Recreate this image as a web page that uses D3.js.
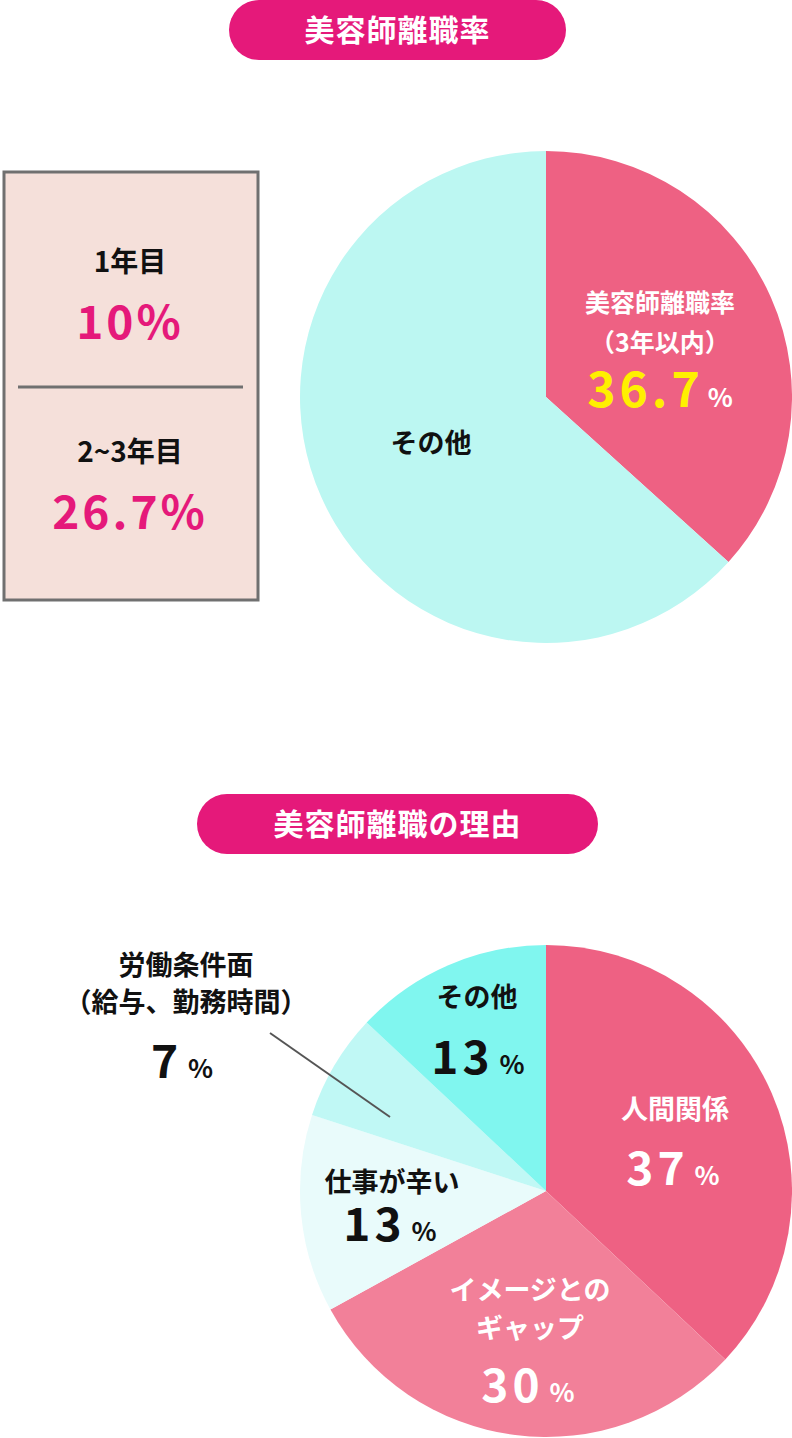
<!DOCTYPE html>
<html><head><meta charset="utf-8">
<script src="https://cdn.jsdelivr.net/npm/d3@7"></script>
<style>body{margin:0;background:#fff}text{font-family:"Noto Sans CJK JP","Noto Sans",sans-serif;font-weight:700}</style>
</head><body>
<svg id="c" width="792" height="1438"></svg>
<script>
var rateNames = ['美容師離職率', 'その他'],
	rateValues = [36.7, 63.3],
	rateColors = ['#ee6183', '#bcf7f2'],
	reasonNames = ['人間関係', 'イメージとのギャップ', '仕事が辛い', '労働条件面', 'その他'],
	reasonValues = [37, 30, 13, 7, 13],
	reasonColors = ['#ee6183', '#f28099', '#e9fbfb', '#c0f8f5', '#80f6ef'],
	boxLabels = ['1年目', '2~3年目'],
	boxValues = ['10%', '26.7%'];

var svg = d3.select('#c'),
	pink = '#e5197a';

function pill(x, y, w, h, label) {
	svg.append('rect').attr('x', x).attr('y', y).attr('width', w).attr('height', h)
		.attr('rx', h / 2).attr('fill', pink);
	svg.append('text').attr('x', x + w / 2).attr('y', y + h / 2 + 11).attr('text-anchor', 'middle')
		.attr('fill', '#fff').attr('font-size', 30).attr('letter-spacing', 1).text(label);
}

function txt(x, y, s, size, fill, ls) {
	return svg.append('text').attr('x', x).attr('y', y).attr('text-anchor', 'middle')
		.attr('font-size', size).attr('fill', fill || '#111').attr('letter-spacing', ls || 0).text(s);
}

function pieChart(cy, values, colors) {
	var arcs = d3.pie().sort(null)(values),
		arc = d3.arc().innerRadius(0).outerRadius(246);
	svg.append('g').attr('transform', 'translate(546,' + cy + ')')
		.selectAll('path').data(arcs).enter().append('path')
		.attr('d', arc).attr('fill', function (d, i) { return colors[i]; });
}

pill(229, 0, 337, 60, '美容師離職率');
pill(197, 794, 401, 60, '美容師離職の理由');

// box
svg.append('rect').attr('x', 4).attr('y', 172).attr('width', 254).attr('height', 428)
	.attr('fill', '#f5e0da').attr('stroke', '#707070').attr('stroke-width', 3);
svg.append('line').attr('x1', 18).attr('x2', 243).attr('y1', 387).attr('y2', 387)
	.attr('stroke', '#707070').attr('stroke-width', 3);
boxLabels.forEach(function (l, i) {
	txt(130, 272 + i * 190, l, 28, '#111');
	txt(130, 339 + i * 190, boxValues[i], 46, pink, 3);
});

pieChart(397, rateValues, rateColors);
txt(660, 312, rateNames[0], 25, '#fff');
txt(660, 352, '（3年以内）', 25, '#fff');
var t = txt(662, 407, '', 48, '#fff000', 4);
t.append('tspan').text('36.7');
t.append('tspan').attr('font-size', 26).attr('fill', '#fff').attr('dx', 4).text('%');
txt(431, 453, rateNames[1], 27, '#111');

pieChart(1191, reasonValues, reasonColors);
function pct(x, y, v, fill) {
	var e = txt(x, y, '', 46, fill, 4);
	e.append('tspan').text(v);
	e.append('tspan').attr('font-size', 26).attr('dx', 6).text('%');
}
txt(675, 1119, reasonNames[0], 27, '#fff');
pct(675, 1185, reasonValues[0], '#fff');
txt(530, 1300, 'イメージとの', 27, '#fff');
txt(530, 1338, 'ギャップ', 27, '#fff');
pct(530, 1402, reasonValues[1], '#fff');
txt(392, 1192, reasonNames[2], 27, '#111');
pct(392, 1241, reasonValues[2], '#111');
txt(186, 975, '労働条件面', 27, '#111');
txt(186, 1012, '（給与、勤務時間）', 27, '#111');
pct(184, 1078, reasonValues[3], '#111');
svg.append('line').attr('x1', 270).attr('y1', 1033).attr('x2', 390).attr('y2', 1117)
	.attr('stroke', '#555').attr('stroke-width', 2);
txt(477, 1007, reasonNames[4], 27, '#111');
pct(480, 1074, reasonValues[4], '#111');
</script>
</body></html>
